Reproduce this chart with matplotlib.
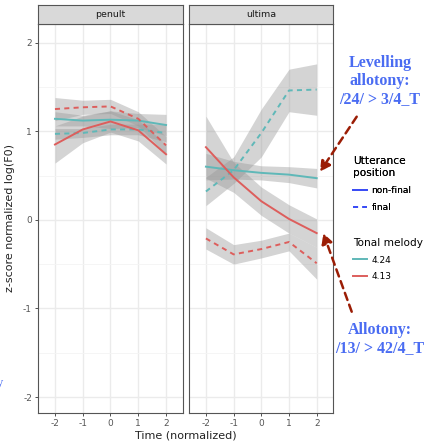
import matplotlib
matplotlib.use("Agg")
import matplotlib.pyplot as plt
from matplotlib.lines import Line2D
import numpy as np

# ---- data ----
time = [-2, -1, 0, 1, 2]
panels = ["penult", "ultima"]
melodies = ["4.24", "4.13"]
positions = ["non-final", "final"]

penult_424_nonfinal = [1.14, 1.12, 1.13, 1.12, 1.07]
penult_424_final = [0.97, 0.98, 1.02, 1.02, 0.98]
penult_413_nonfinal = [0.85, 1.02, 1.11, 1.01, 0.74]
penult_413_final = [1.25, 1.27, 1.28, 1.14, 0.84]
ultima_424_nonfinal = [0.60, 0.56, 0.53, 0.51, 0.47]
ultima_424_final = [0.32, 0.56, 0.98, 1.46, 1.47]
ultima_413_nonfinal = [0.82, 0.48, 0.21, 0.01, -0.15]
ultima_413_final = [-0.21, -0.39, -0.33, -0.25, -0.49]

# ribbon half-widths (standard error bands)
penult_424_nonfinal_se = [0.08, 0.06, 0.10, 0.08, 0.12]
penult_424_final_se = [0.06, 0.05, 0.06, 0.06, 0.10]
penult_413_nonfinal_se = [0.21, 0.15, 0.12, 0.12, 0.11]
penult_413_final_se = [0.13, 0.08, 0.08, 0.08, 0.10]
ultima_424_nonfinal_se = [0.15, 0.10, 0.08, 0.09, 0.11]
ultima_424_final_se = [0.16, 0.15, 0.27, 0.24, 0.29]
ultima_413_nonfinal_se = [0.35, 0.17, 0.16, 0.16, 0.16]
ultima_413_final_se = [0.12, 0.11, 0.10, 0.10, 0.18]

x_ticks = [-2, -1, 0, 1, 2]
y_ticks = [-2, -1, 0, 1, 2]

series = {
    ("penult", "4.24", "non-final"): (penult_424_nonfinal, penult_424_nonfinal_se),
    ("penult", "4.24", "final"): (penult_424_final, penult_424_final_se),
    ("penult", "4.13", "non-final"): (penult_413_nonfinal, penult_413_nonfinal_se),
    ("penult", "4.13", "final"): (penult_413_final, penult_413_final_se),
    ("ultima", "4.24", "non-final"): (ultima_424_nonfinal, ultima_424_nonfinal_se),
    ("ultima", "4.24", "final"): (ultima_424_final, ultima_424_final_se),
    ("ultima", "4.13", "non-final"): (ultima_413_nonfinal, ultima_413_nonfinal_se),
    ("ultima", "4.13", "final"): (ultima_413_final, ultima_413_final_se),
}

colors = {"4.24": "#5FB8B8", "4.13": "#DD5E5C"}
dash = (2.6, 2.2)
lw = 1.4

W, H = 424, 443
fig = plt.figure(figsize=(W / 100, H / 100), dpi=100)

def fx(px):
    return px / W

def fy(py):
    return 1 - py / H

panel_x = [(38.3, 182.7), (189.3, 333.3)]
top_px, bot_px, strip_top = 24.0, 413.0, 5.0

axes = []
for i, name in enumerate(panels):
    x0, x1 = panel_x[i]
    ax = fig.add_axes([fx(x0), fy(bot_px), fx(x1 - x0), (bot_px - top_px) / H])
    axes.append(ax)
    ax.set_xlim(-2.6, 2.6)
    ax.set_ylim(-2.18, 2.21)
    ax.set_xticks(x_ticks)
    ax.set_xticklabels([str(t) for t in x_ticks])
    ax.set_yticks(y_ticks)
    ax.set_yticks([-1.5, -0.5, 0.5, 1.5], minor=True)
    ax.grid(True, which="major", color="#EBEBEB", lw=1.0)
    ax.grid(True, which="minor", axis="y", color="#F4F4F4", lw=0.6)
    ax.set_axisbelow(True)
    ax.tick_params(axis="both", which="major", length=2.5, width=0.6,
                   color="#333333", labelsize=6.5, labelcolor="#555555", pad=2)
    ax.tick_params(axis="both", which="minor", length=0)
    for s in ax.spines.values():
        s.set_color("#555555")
        s.set_linewidth(0.8)
    if i == 1:
        ax.set_yticklabels([])
        ax.tick_params(axis="y", length=0)
    else:
        ax.set_yticklabels([str(t) for t in y_ticks])

    # ribbons first
    for mel in melodies:
        for pos in positions:
            m, se = series[(name, mel, pos)]
            m = np.array(m); se = np.array(se)
            ax.fill_between(time, m - se, m + se, color="#999999", alpha=0.42,
                            lw=0, zorder=2)
    for mel in melodies:
        for pos in positions:
            m, se = series[(name, mel, pos)]
            ln, = ax.plot(time, m, color=colors[mel], lw=lw, zorder=3)
            if pos == "final":
                ln.set_dashes(dash)

    # strip
    sax = fig.add_axes([fx(x0), fy(top_px), fx(x1 - x0), (top_px - strip_top) / H])
    sax.set_facecolor("#D9D9D9")
    sax.set_xticks([]); sax.set_yticks([])
    for s in sax.spines.values():
        s.set_color("#555555")
        s.set_linewidth(0.8)
    sax.text(0.5, 0.5, name, ha="center", va="center", fontsize=6.8,
             color="#1A1A1A", transform=sax.transAxes)

fig.text(fx(10), fy((top_px + bot_px) / 2), "z-score normalized log(F0)",
         rotation=90, ha="center", va="center", fontsize=8, color="#222222")
fig.text(fx(186), fy(436), "Time (normalized)", ha="center", va="center",
         fontsize=8, color="#222222")

# legends
blue = "#3B4DF5"
h1 = [Line2D([], [], color=blue, lw=lw),
      Line2D([], [], color=blue, lw=lw, dashes=dash)]
leg1 = fig.legend(h1, positions, title="Utterance\nposition", loc="upper left",
                  bbox_to_anchor=(fx(347), fy(150)), frameon=False, fontsize=6.5,
                  title_fontsize=7.6, handlelength=1.5, handletextpad=0.5,
                  labelspacing=0.9, alignment="left", borderpad=0.2)
h2 = [Line2D([], [], color=colors[m], lw=lw) for m in melodies]
leg2 = fig.legend(h2, melodies, title="Tonal melody", loc="upper left",
                  bbox_to_anchor=(fx(347), fy(232)), frameon=False, fontsize=6.5,
                  title_fontsize=7.6, handlelength=1.5, handletextpad=0.5,
                  labelspacing=0.8, alignment="left", borderpad=0.2)
fig.add_artist(leg1)

# annotations
ann_blue = "#4A6CF2"
serif = ["Liberation Serif", "DejaVu Serif"]
fig.text(fx(380), fy(81), "Levelling\nallotony:\n/24/ > 3/4_T", ha="center",
         va="center", fontsize=11.5, fontweight="bold", color=ann_blue,
         family=serif, linespacing=1.15)
fig.text(fx(380), fy(339), "Allotony:\n/13/ > 42/4_T", ha="center",
         va="center", fontsize=11.5, fontweight="bold", color=ann_blue,
         family=serif, linespacing=1.15)
fig.text(fx(3), fy(383), "y", ha="right", va="center", fontsize=9,
         color=ann_blue, family=serif)

arrow_col = "#9B1D05"
for (tx, ty), (hx, hy) in [((356.7, 116.7), (320, 171.7)),
                           ((351.7, 311.7), (323.3, 233.3))]:
    fig.add_artist(matplotlib.patches.FancyArrowPatch(
        (fx(tx), fy(ty)), (fx(hx), fy(hy)), transform=fig.transFigure,
        arrowstyle="-|>,head_length=6,head_width=3.2", color=arrow_col,
        lw=1.8, linestyle=(0, (3, 2)), shrinkA=0, shrinkB=0))

fig.savefig("out.png", dpi=100)
